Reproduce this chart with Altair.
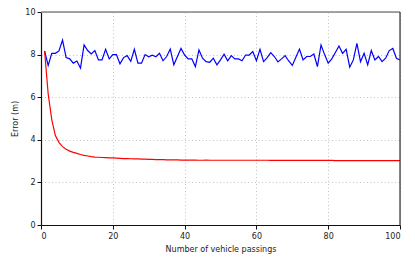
import altair as alt
import pandas as pd

passings = list(range(1, 101))

blue_err = [8.17, 7.49, 8.06, 8.06, 8.17, 8.68, 7.86, 7.80, 7.60, 7.70,
            7.37, 8.45, 8.19, 8.03, 8.19, 7.75, 7.75, 8.25, 7.80, 8.00,
            8.00, 7.57, 7.86, 7.95, 7.68, 8.25, 7.60, 7.60, 8.00, 7.90,
            7.97, 7.90, 8.06, 7.71, 7.91, 8.26, 7.52, 7.91, 8.29, 7.98,
            7.80, 7.80, 7.44, 8.22, 7.83, 7.67, 7.64, 7.83, 7.52, 7.75,
            8.02, 7.71, 7.95, 7.80, 7.80, 7.71, 7.98, 7.98, 8.14, 7.71,
            8.25, 7.67, 7.86, 8.09, 7.91, 7.66, 7.80, 7.95, 7.70, 7.49,
            7.88, 8.26, 7.75, 7.91, 7.91, 8.03, 7.44, 8.45, 8.00, 7.60,
            7.80, 8.10, 8.40, 8.06, 8.25, 7.41, 7.75, 8.53, 7.67, 8.06,
            7.52, 8.19, 7.75, 7.91, 7.67, 7.83, 8.19, 8.29, 7.83, 7.75]

red_err = [8.17, 6.15, 4.95, 4.20, 3.88, 3.68, 3.56, 3.47, 3.41, 3.36,
           3.31, 3.27, 3.24, 3.21, 3.19, 3.18, 3.17, 3.16, 3.15, 3.15,
           3.14, 3.13, 3.12, 3.12, 3.11, 3.10, 3.10, 3.09, 3.09, 3.08,
           3.08, 3.07, 3.07, 3.07, 3.06, 3.06, 3.06, 3.06, 3.05, 3.05,
           3.05, 3.05, 3.05, 3.04, 3.04, 3.05, 3.04, 3.04, 3.04, 3.04,
           3.04, 3.04, 3.04, 3.04, 3.04, 3.04, 3.04, 3.04, 3.04, 3.04,
           3.04, 3.04, 3.04, 3.03, 3.03, 3.03, 3.03, 3.03, 3.03, 3.03,
           3.03, 3.03, 3.03, 3.03, 3.03, 3.03, 3.03, 3.03, 3.03, 3.03,
           3.03, 3.02, 3.02, 3.02, 3.02, 3.02, 3.02, 3.02, 3.02, 3.02,
           3.02, 3.02, 3.02, 3.02, 3.02, 3.02, 3.02, 3.02, 3.02, 3.02]

x_ticks = [0, 20, 40, 60, 80, 100]
y_ticks = [0, 2, 4, 6, 8, 10]

df = pd.DataFrame({
    "n": passings * 2,
    "err": blue_err + red_err,
    "series": ["blue"] * len(blue_err) + ["red"] * len(red_err),
})

xscale = alt.Scale(domain=[0, 100], nice=False, zero=False)
yscale = alt.Scale(domain=[0, 10], nice=False)

axis_common = dict(
    labelFont="DejaVu Sans", titleFont="DejaVu Sans",
    labelFontSize=8, titleFontSize=8, titleFontWeight="normal",
    labelColor="#222", titleColor="#222",
    domainColor="#111", domainWidth=1.2,
    tickColor="#111", tickSize=4, tickWidth=1,
    gridColor="#bbbbbb", gridDash=[1, 2.5], gridWidth=0.9,
)

lines = alt.Chart(df).mark_line(strokeWidth=1.2).encode(
    x=alt.X("n:Q", scale=xscale,
            axis=alt.Axis(values=x_ticks, title="Number of vehicle passings",
                          labelPadding=3, titlePadding=5, **axis_common)),
    y=alt.Y("err:Q", scale=yscale,
            axis=alt.Axis(values=y_ticks, title="Error (m)",
                          labelPadding=2, titlePadding=5, **axis_common)),
    color=alt.Color("series:N",
                    scale=alt.Scale(domain=["blue", "red"], range=["#0000ff", "#ff0000"]),
                    legend=None),
    detail="series:N",
)

top_spine = alt.Chart(pd.DataFrame({"y": [10]})).mark_rule(
    color="#888888", strokeWidth=1.5).encode(
    y=alt.Y("y:Q", scale=yscale), x=alt.value(0), x2=alt.value(359))

right_spine = alt.Chart(pd.DataFrame({"x": [100]})).mark_rule(
    color="#333333", strokeWidth=1.2).encode(
    x=alt.X("x:Q", scale=xscale), y=alt.value(0), y2=alt.value(213))

chart = alt.layer(lines, top_spine, right_spine).properties(
    width=359, height=213,
    autosize=alt.AutoSizeParams(type="none"),
    padding={"left": 33, "top": 4, "right": 7, "bottom": 37},
).configure_view(stroke=None).configure(background="white")

chart.save("out.html", embed_options={"renderer": "svg", "actions": False})
